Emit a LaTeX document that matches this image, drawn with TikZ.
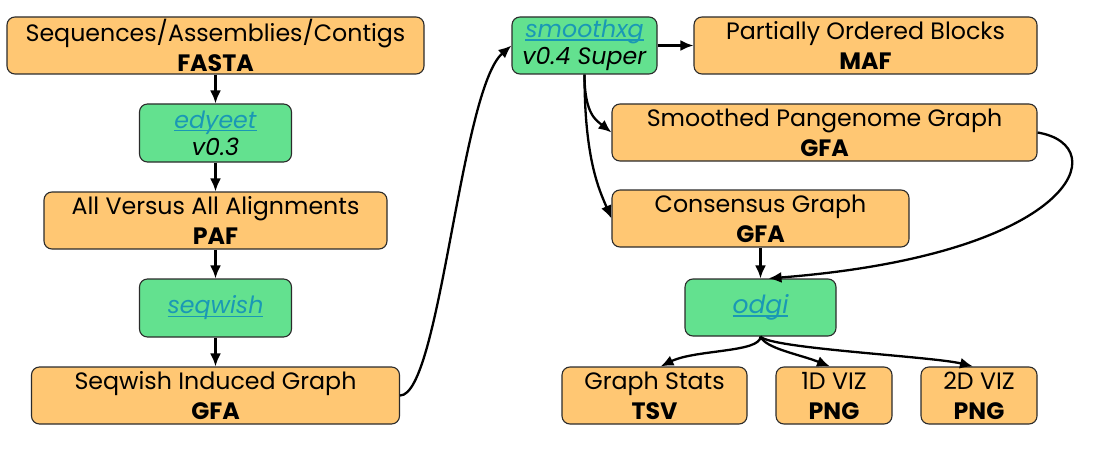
\documentclass[tikz,border=0pt]{standalone}
\usepackage{fontspec}
\setmainfont{Poppins}
\usetikzlibrary{arrows.meta,calc}
\definecolor{boxorange}{HTML}{FFC773}
\definecolor{boxgreen}{HTML}{63E18F}
\definecolor{linkteal}{HTML}{1A98B5}
\definecolor{edgegray}{HTML}{2B2B2B}
\newcommand{\lnk}[1]{{\color{linkteal}\itshape\setbox0\hbox{#1}\makebox[0pt][l]{\rule[-3pt]{\wd0}{1.4pt}}\box0}}
\tikzset{
  obox/.style={draw=edgegray, fill=boxorange, rounded corners=8pt, line width=1.1pt,
    minimum height=57pt, align=center, inner sep=0pt,
    font=\fontsize{23.7}{30}\selectfont},
  gbox/.style={obox, fill=boxgreen, font=\fontsize{23.7}{27}\selectfont},
  arr/.style={-{Latex[length=13pt,width=11pt]}, line width=2.3pt},
}
\begin{document}
\begin{tikzpicture}[x=1pt,y=-1pt]
\useasboundingbox (0,0) rectangle (1094,468);
% left column
\node[obox, minimum width=417pt] (fasta) at (215.5,45.5) {Sequences/Assemblies/Contigs\\\textbf{FASTA}};
\node[gbox, minimum width=152pt, minimum height=58pt] (edyeet) at (215.5,133) {\lnk{edyeet}\\\textit{v0.3}};
\node[obox, minimum width=343pt] (paf) at (215.5,220.5) {All Versus All Alignments\\\textbf{PAF}};
\node[gbox, minimum width=152pt, minimum height=58pt] (seqwish) at (215.5,308) {\lnk{seqwish}};
\node[obox, minimum width=368pt] (induced) at (215.5,395.5) {Seqwish Induced Graph\\\textbf{GFA}};
% right part
\node[gbox, minimum width=145pt] (smoothxg) at (584.5,45.5) {\lnk{smoothxg}\\\textit{v0.4 Super}};
\node[obox, minimum width=343pt] (maf) at (865.5,45.5) {Partially Ordered Blocks\\\textbf{MAF}};
\node[obox, minimum width=425pt] (smoothed) at (824.5,132.5) {Smoothed Pangenome Graph\\\textbf{GFA}};
\node[obox, minimum width=297pt] (consensus) at (760.5,218.5) {Consensus Graph\\\textbf{GFA}};
\node[gbox, minimum width=151pt, font=\fontsize{25}{28}\selectfont] (odgi) at (760.5,307.5) {\lnk{odgi}};
\node[obox, minimum width=185pt] (stats) at (654.5,395.5) {Graph Stats\\\textbf{TSV}};
\node[obox, minimum width=116pt] (viz1) at (834,395.5) {1D VIZ\\\textbf{PNG}};
\node[obox, minimum width=116pt] (viz2) at (979,395.5) {2D VIZ\\\textbf{PNG}};
% connectors
\draw[arr] (fasta) -- (edyeet);
\draw[arr] (edyeet) -- (paf);
\draw[arr] (paf) -- (seqwish);
\draw[arr] (seqwish) -- (induced);
\draw[arr] (induced.east) .. controls +(40,0) and +(-51,44) .. (smoothxg.west);
\draw[arr] (smoothxg) -- (maf);
\coordinate (sx) at (smoothxg.south);
\draw[arr] (sx) .. controls +(0,40) and +(-15,-12) .. (smoothed.west);
\draw[arr] (sx) .. controls +(0,85) and +(-12,-28) .. (consensus.west);
\draw[arr] (consensus) -- (odgi);
\coordinate (oin) at ($(odgi.north)+(8,0)$);
\draw[arr] (smoothed.east) .. controls +(78,13) and +(307,-24) .. (oin);
\coordinate (st) at ($(stats.north)+(6,0)$);
\coordinate (v1) at ($(viz1.north)+(-4,0)$);
\coordinate (v2) at ($(viz2.north)+(-6,0)$);
\draw[arr] (odgi.south) .. controls +(0,16) and +(35,-17) .. (st);
\draw[arr] (odgi.south) .. controls +(5,12) and +(-30,-12) .. (v1);
\draw[arr] (odgi.south) .. controls +(10,12) and +(-40,-10) .. (v2);
\end{tikzpicture}
\end{document}
